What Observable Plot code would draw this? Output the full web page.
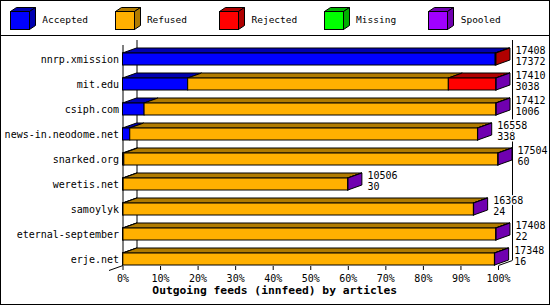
<!DOCTYPE html>
<html><head><meta charset="utf-8">
<script src="https://cdn.jsdelivr.net/npm/d3@7"></script>
<script src="https://cdn.jsdelivr.net/npm/@observablehq/plot@0.6"></script>
<style>
html,body{margin:0;padding:0;background:#fff;}
#frame{position:relative;width:550px;height:305px;box-sizing:border-box;border:1px solid #000;overflow:hidden;font-family:"DejaVu Sans Mono",monospace;background:#fff;}
#legend{position:absolute;left:0;top:0;width:548px;height:34px;border-bottom:1px solid #000;}
.item{position:absolute;top:0;height:34px;width:100px;}
.item svg{position:absolute;left:0;top:6px;}
.item span{position:absolute;left:32.3px;top:13px;font-size:9.5px;line-height:12px;white-space:nowrap;color:#000;}
#chart{position:absolute;left:0;top:35px;}
</style></head>
<body>
<div id="frame"><div id="legend"></div><div id="chart"></div></div>
<script>
// ---- data ----
const hosts = ["nnrp.xmission","mit.edu","csiph.com","news-in.neodome.net","snarked.org","weretis.net","samoylyk","eternal-september","erje.net"];
const offered  = [17408, 17410, 17412, 16558, 17504, 10506, 16368, 17408, 17348];
const accepted = [17372, 3038, 1006, 338, 60, 30, 24, 22, 16];
const refused  = [0, 12150, 16396, 16210, 17434, 10466, 16334, 17376, 17322];
const rejected = [36, 2212, 0, 0, 0, 0, 0, 0, 0];
const missing  = [0, 0, 0, 0, 0, 0, 0, 0, 0];
const spooled  = [0, 10, 10, 10, 10, 10, 10, 10, 10];
const categories = ["Accepted","Refused","Rejected","Missing","Spooled"];
const frontColors = ["#0000ff","#ffb000","#ff0000","#00ff00","#a000ff"];
const darkColors  = ["#0000b0","#b07b00","#b00000","#00b000","#7000b0"];
const xTicks = [0,10,20,30,40,50,60,70,80,90,100];
const title = "Outgoing feeds (innfeed) by articles";

// ---- legend ----
const legend = document.getElementById("legend");
categories.forEach((c, k) => {
  const it = document.createElement("div");
  it.className = "item";
  it.style.left = (9 + k * 104.6) + "px";
  it.innerHTML = `<svg width="27" height="24">
    <polygon points="0.5,4.5 6.5,0.5 25.5,0.5 19.5,4.5" fill="${darkColors[k]}" stroke="#000"/>
    <polygon points="19.5,4.5 25.5,0.5 25.5,18.5 19.5,22.5" fill="${darkColors[k]}" stroke="#000"/>
    <rect x="0.5" y="4.5" width="19" height="18" fill="${frontColors[k]}" stroke="#000"/>
  </svg><span>${c}</span>`;
  legend.appendChild(it);
});

// ---- geometry (in scale units) ----
const W = 548, H = 268;
const mL = 121.5, mR = 51;
const pxPerPct = (W - mL - mR) / 100;
const dX = 14 / pxPerPct;   // depth in x (percent units)
const dY = 0.2;             // depth in y (row units)
const half = 0.24;          // half front height (row units)
const wallTop = -0.56;
const maxOff = d3.max(offered);
const n = hosts.length;

const series = [accepted, refused, rejected, missing, spooled];
const segs = [];
hosts.forEach((h, i) => {
  let acc = 0;
  series.forEach((s, k) => {
    if (s[i] > 0) {
      const a = acc / maxOff * 100;
      acc += s[i];
      const b = acc / maxOff * 100;
      segs.push({i, k, a, b, id: i + "-" + k});
    }
  });
});
const lastSegs = hosts.map((h, i) => segs.filter(s => s.i === i).slice(-1)[0]);

const topPts = segs.flatMap(s => [
  {id: s.id, y: s.i - half, x1: s.a, x2: s.b, c: darkColors[s.k]},
  {id: s.id, y: s.i - half - dY, x1: s.a + dX, x2: s.b + dX, c: darkColors[s.k]}
]);
const sidePts = lastSegs.flatMap(s => [
  {id: s.id, x: s.b, y1: s.i - half, y2: s.i + half, c: darkColors[s.k]},
  {id: s.id, x: s.b + dX, y1: s.i - half - dY, y2: s.i + half - dY, c: darkColors[s.k]}
]);
const rows = hosts.map((h, i) => ({i, host: h, off: offered[i], acc: accepted[i], pct: offered[i] / maxOff * 100}));

const chart = Plot.plot({
  width: W, height: H,
  marginLeft: mL, marginRight: mR, marginTop: 4, marginBottom: 38,
  style: {fontFamily: "'DejaVu Sans Mono', monospace", fontSize: "10px", background: "white", overflow: "visible", color: "black"},
  x: {domain: [0, 100], axis: null},
  y: {domain: [0, n - 1], range: [23, 223], axis: null},
  color: {type: "identity"},
  marks: [
    // walls
    Plot.ruleX([0], {x: d => d + dX, y1: () => wallTop - dY, y2: () => n - 1 + half - dY, stroke: "black"}),
    Plot.ruleX([100], {x: d => d + dX, y1: () => wallTop - dY, y2: () => n - 1 + half - dY, stroke: "black"}),
    Plot.link([0], {x1: d => d - dX, y1: () => n - 1 + half + dY, x2: d => d, y2: () => n - 1 + half, stroke: "black"}),
    Plot.link([100], {x1: d => d, y1: () => n - 1 + half, x2: d => d + dX, y2: () => n - 1 + half - dY, stroke: "black"}),
    Plot.ruleX([0], {y1: () => wallTop, y2: () => n - 1 + half, stroke: "black"}),
    // bars
    Plot.areaX(topPts, {y: "y", x1: "x1", x2: "x2", z: "id", fill: "c", stroke: "black", strokeWidth: 1, curve: "linear"}),
    Plot.areaY(sidePts, {x: "x", y1: "y1", y2: "y2", z: "id", fill: "c", stroke: "black", strokeWidth: 1, curve: "linear"}),
    Plot.rect(segs, {x1: "a", x2: "b", y1: d => d.i - half, y2: d => d.i + half, fill: d => frontColors[d.k], stroke: "black", strokeWidth: 1}),
    // value labels
    Plot.text(rows, {x: "pct", y: "i", text: d => String(d.off), dx: 19, dy: -9, textAnchor: "start", fill: "black", stroke: "white", strokeWidth: 3}),
    Plot.text(rows, {x: "pct", y: "i", text: d => String(d.acc), dx: 19, dy: 2, textAnchor: "start", fill: "black", stroke: "white", strokeWidth: 3}),
    // axes
    Plot.axisY({ticks: d3.range(n), tickFormat: i => hosts[i], tickSize: 0, tickPadding: 4, anchor: "left", label: null}),
    Plot.axisX({ticks: xTicks, tickFormat: d => d + "%", tickSize: 4, tickPadding: 4, anchor: "bottom", label: null}),
    Plot.text([title], {frameAnchor: "bottom", text: d => d, dx: -36, dy: 27.5, fontWeight: "bold", fontSize: 11.3, fill: "black"})
  ]
});
document.getElementById("chart").appendChild(chart);
</script>
</body></html>
